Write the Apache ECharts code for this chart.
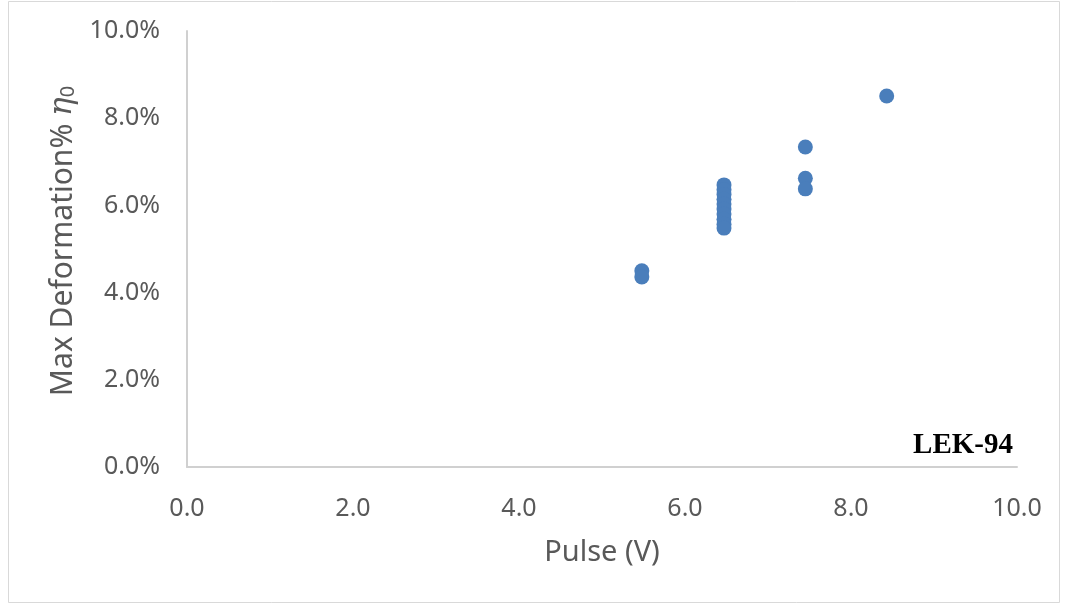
<!DOCTYPE html>
<html>
<head>
<meta charset="utf-8">
<script src="https://cdn.jsdelivr.net/npm/echarts@6/dist/echarts.min.js"></script>
<style>
  html, body { margin: 0; padding: 0; background: #fff; }
  #chart { width: 1068px; height: 604px; }
</style>
</head>
<body>
<div id="chart"></div>
<script>
// Pulse voltage (V) for each measurement
const pulseV = [
  5.48, 5.48,
  6.47, 6.47, 6.47, 6.47, 6.47, 6.47, 6.47, 6.47, 6.47, 6.47,
  7.45, 7.45, 7.45,
  8.43
];
// Maximum deformation (%) for each measurement
const maxDeformation = [
  4.50, 4.36,
  6.47, 6.36, 6.25, 6.14, 6.03, 5.92, 5.80, 5.68, 5.57, 5.48,
  7.34, 6.62, 6.38,
  8.51
];
const xTicks = { min: 0, max: 10, step: 2 };
const yTicks = { min: 0, max: 10, step: 2 };
const sampleLabel = 'LEK-94';

const points = pulseV.map((v, i) => [v, maxDeformation[i]]);

const chart = echarts.init(document.getElementById('chart'));
const labelFont = '"Noto Sans", "Open Sans", sans-serif';

chart.setOption({
  animation: false,
  backgroundColor: '#ffffff',
  grid: { left: 187, right: 51, top: 31, bottom: 137 },
  xAxis: {
    type: 'value',
    min: xTicks.min, max: xTicks.max, interval: xTicks.step,
    name: 'Pulse (V)',
    nameLocation: 'middle',
    nameGap: 71,
    nameTextStyle: { color: '#595959', fontSize: 29, fontFamily: labelFont },
    axisLine: { show: true, lineStyle: { color: '#d0d0d0', width: 2 } },
    axisTick: { show: false },
    splitLine: { show: false },
    axisLabel: {
      color: '#595959', fontSize: 25, fontFamily: labelFont, margin: 29,
      formatter: v => v.toFixed(1)
    }
  },
  yAxis: {
    type: 'value',
    min: yTicks.min, max: yTicks.max, interval: yTicks.step,
    name: '{t|Max Deformation% }{e|η}{s|0}',
    nameLocation: 'middle',
    nameGap: 108,
    nameRotate: 90,
    nameTextStyle: {
      padding: [0, 0, 0, 16],
      rich: {
        t: { color: '#595959', fontSize: 30, fontFamily: labelFont },
        e: { color: '#595959', fontSize: 31, fontFamily: '"DejaVu Serif", serif', fontStyle: 'italic' },
        s: { color: '#595959', fontSize: 20, fontFamily: labelFont, verticalAlign: 'bottom', padding: [10, 0, 0, 0] }
      }
    },
    axisLine: { show: true, lineStyle: { color: '#d0d0d0', width: 2 } },
    axisTick: { show: false },
    splitLine: { show: false },
    axisLabel: {
      color: '#595959', fontSize: 25, fontFamily: labelFont, margin: 27,
      formatter: v => v.toFixed(1) + '%'
    }
  },
  graphic: [
    {
      type: 'rect',
      shape: { x: 8.5, y: 1.5, width: 1051, height: 601 },
      style: { fill: 'none', stroke: '#d9d9d9', lineWidth: 1 },
      silent: true
    },
    {
      type: 'text',
      right: 55,
      top: 431,
      style: {
        text: sampleLabel,
        fill: '#000000',
        font: 'bold 29px "Liberation Serif", "Times New Roman", serif'
      }
    }
  ],
  series: [{
    type: 'scatter',
    data: points,
    symbol: 'circle',
    symbolSize: 15,
    itemStyle: { color: '#4a7ebb', opacity: 1 }
  }]
});
</script>
</body>
</html>
